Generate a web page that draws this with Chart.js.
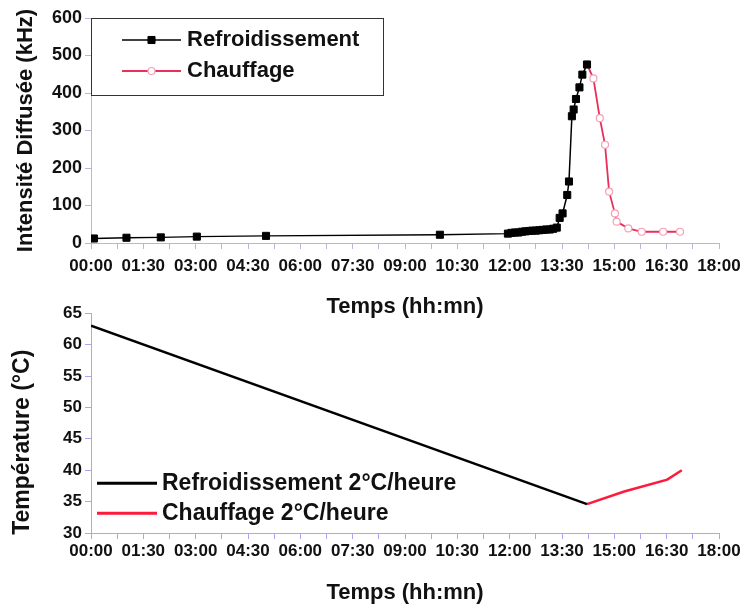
<!DOCTYPE html>
<html lang="fr">
<head>
<meta charset="UTF-8">
<title>Intensité diffusée et température</title>
<style>
  body {margin: 0; background: #fff;}
  .wrap {position: relative; width: 744px; height: 610px;}
  .haut {position: absolute; left: 0; top: 0; width: 744px; height: 320px;}
  .bas {position: absolute; left: 0; top: 300px; width: 744px; height: 310px;}
</style>
</head>
<body>
<div class="wrap">
  <div class="haut"><canvas id="intensite"></canvas></div>
  <div class="bas"><canvas id="temperature"></canvas></div>
</div>
<script src="https://cdn.jsdelivr.net/npm/chart.js@4.4.1/dist/chart.umd.min.js"></script>
<script>
// --- données (heure hh:mm) ---
const refroidTemps = ['00:05', '01:01', '02:00', '03:02', '05:01', '10:00',
  '11:57', '12:03', '12:09', '12:15', '12:21', '12:27', '12:33', '12:39', '12:45',
  '12:51', '12:57', '13:03', '13:09', '13:15', '13:21',
  '13:26', '13:31', '13:39', '13:42', '13:47', '13:50', '13:54', '14:00', '14:05', '14:13'];
const refroidIntensite = [12, 14, 15, 17, 19, 22,
  25, 27, 28, 28, 30, 31, 32, 33, 33,
  34, 35, 36, 36, 38, 41,
  67, 79, 128, 164, 338, 356, 384, 415, 449, 476];

const chauffTemps = ['14:13', '14:24', '14:35', '14:44', '14:51', '15:01', '15:04', '15:24', '15:47', '16:24', '16:53'];
const chauffIntensite = [476, 439, 333, 262, 137, 79, 57, 39, 30, 30, 30];

const tempRefroidTemps = ['00:00', '14:13'];
const tempRefroid = [63, 34.6];
const tempChauffTemps = ['14:13', '15:17', '16:31', '16:56'];
const tempChauff = [34.6, 36.6, 38.5, 40.0];

// conversion hh:mm -> minutes
const enMin = s => { const p = s.split(':'); return +p[0] * 60 + +p[1]; };
const pts = (t, v) => t.map((s, i) => ({x: enMin(s), y: v[i]}));
const deux = n => String(n).padStart(2, '0');

const police = '"Liberation Sans", Arial, sans-serif';

// légende dessinée dans la zone du graphique
const legendeBoite = {
  id: 'legendeBoite',
  afterDatasetsDraw(chart, args, o) {
    const ctx = chart.ctx, a = chart.chartArea;
    ctx.save();
    if (o.cadre) {
      ctx.strokeStyle = '#333';
      ctx.lineWidth = 1;
      ctx.strokeRect(a.left + 0.5, a.top + 0.5, o.largeur, o.hauteur);
    }
    ctx.font = 'bold ' + o.taille + 'px ' + police;
    ctx.textBaseline = 'middle';
    chart.data.datasets.forEach((ds, i) => {
      const y = a.top + o.y0 + i * o.dy;
      const x0 = a.left + o.x0;
      ctx.strokeStyle = ds.borderColor;
      ctx.lineWidth = o.trait || ds.borderWidth;
      ctx.beginPath(); ctx.moveTo(x0, y); ctx.lineTo(x0 + o.long, y); ctx.stroke();
      if (ds.pointRadius) {
        ctx.fillStyle = ds.pointBackgroundColor;
        ctx.strokeStyle = ds.pointBorderColor;
        ctx.lineWidth = ds.pointBorderWidth;
        Chart.helpers.drawPoint(ctx, {pointStyle: ds.pointStyle, radius: ds.pointRadius, borderWidth: ds.pointBorderWidth}, x0 + o.long / 2, y);
      }
      ctx.fillStyle = '#111';
      ctx.fillText(ds.label, x0 + o.long + o.ecart, y);
    });
    ctx.restore();
  }
};

function axeTemps(couleur, pad, titrePad) {
  return {
    type: 'linear', min: 0, max: 1080,
    border: {color: couleur, width: 1},
    grid: {drawOnChartArea: false, drawTicks: true, tickLength: 6, color: couleur},
    ticks: {
      stepSize: 45, autoSkip: false, maxRotation: 0, minRotation: 0, padding: pad,
      color: '#111', font: {family: police, size: 17, weight: 'bold'},
      callback: v => v % 90 === 0 ? deux(Math.floor(v / 60)) + ':' + deux(v % 60) : ''
    },
    title: {display: true, text: 'Temps (hh:mn)', color: '#111',
      font: {family: police, size: 22, weight: 'bold'}, padding: {top: 0, bottom: titrePad}},
    afterFit: s => { s.height = 77; s.paddingLeft = 0; s.paddingRight = 0; }
  };
}

Chart.defaults.animation = false;

new Chart(document.getElementById('intensite'), {
  type: 'line',
  data: {
    datasets: [{
      label: 'Refroidissement',
      data: pts(refroidTemps, refroidIntensite),
      borderColor: '#000', borderWidth: 1.5,
      pointStyle: 'rect', pointRadius: 5,
      pointBackgroundColor: '#000', pointBorderColor: '#000', pointBorderWidth: 1
    }, {
      label: 'Chauffage',
      data: pts(chauffTemps, chauffIntensite),
      borderColor: '#e8305a', borderWidth: 1.8,
      pointStyle: 'circle', pointRadius: 3.5,
      pointBackgroundColor: '#fff', pointBorderColor: '#f4a0b8', pointBorderWidth: 1.2
    }]
  },
  options: {
    responsive: true, maintainAspectRatio: false,
    layout: {padding: {top: 18, right: 25, left: 0, bottom: 0}},
    plugins: {
      legend: {display: false}, tooltip: {enabled: false},
      legendeBoite: {cadre: true, largeur: 292, hauteur: 77, x0: 31, long: 59, ecart: 6, y0: 22, dy: 31, taille: 22}
    },
    scales: {
      x: axeTemps('#b8b8d0', 7, 0),
      y: {
        min: 0, max: 600,
        border: {color: '#b8b8d0', width: 1},
        grid: {drawOnChartArea: false, drawTicks: true, tickLength: 6, color: '#b8b8d0'},
        ticks: {stepSize: 50, padding: 3, color: '#111',
          font: {family: police, size: 18, weight: 'bold'},
          callback: v => v % 100 === 0 ? v : ''},
        title: {display: true, text: 'Intensité Diffusée (kHz)', color: '#111',
          font: {family: police, size: 22, weight: 'bold'}, padding: {top: 13, bottom: 0}},
        afterFit: s => { s.width = 91; }
      }
    }
  },
  plugins: [legendeBoite]
});

new Chart(document.getElementById('temperature'), {
  type: 'line',
  data: {
    datasets: [{
      label: 'Refroidissement 2°C/heure',
      data: pts(tempRefroidTemps, tempRefroid),
      borderColor: '#000', borderWidth: 2.5, pointRadius: 0
    }, {
      label: 'Chauffage 2°C/heure',
      data: pts(tempChauffTemps, tempChauff),
      borderColor: '#ff1a3c', borderWidth: 2.5, pointRadius: 0
    }]
  },
  options: {
    responsive: true, maintainAspectRatio: false,
    layout: {padding: {top: 10, right: 25, left: 0, bottom: 0}},
    plugins: {
      legend: {display: false}, tooltip: {enabled: false},
      legendeBoite: {cadre: false, x0: 6, long: 60, ecart: 5, y0: 170, dy: 30, trait: 3, taille: 23}
    },
    scales: {
      x: axeTemps('#a8a8ee', 2, 4),
      y: {
        min: 30, max: 65,
        border: {color: '#a8a8ee', width: 1},
        grid: {drawOnChartArea: false, drawTicks: true, tickLength: 6, color: '#a8a8ee'},
        ticks: {stepSize: 2.5, padding: 3, color: '#111',
          font: {family: police, size: 17, weight: 'bold'},
          callback: v => v % 5 === 0 ? v : ''},
        title: {display: true, text: 'Température (°C)      ', color: '#111',
          font: {family: police, size: 23, weight: 'bold'}, padding: {top: 9, bottom: 0}},
        afterFit: s => { s.width = 91; }
      }
    }
  },
  plugins: [legendeBoite]
});
</script>
</body>
</html>
